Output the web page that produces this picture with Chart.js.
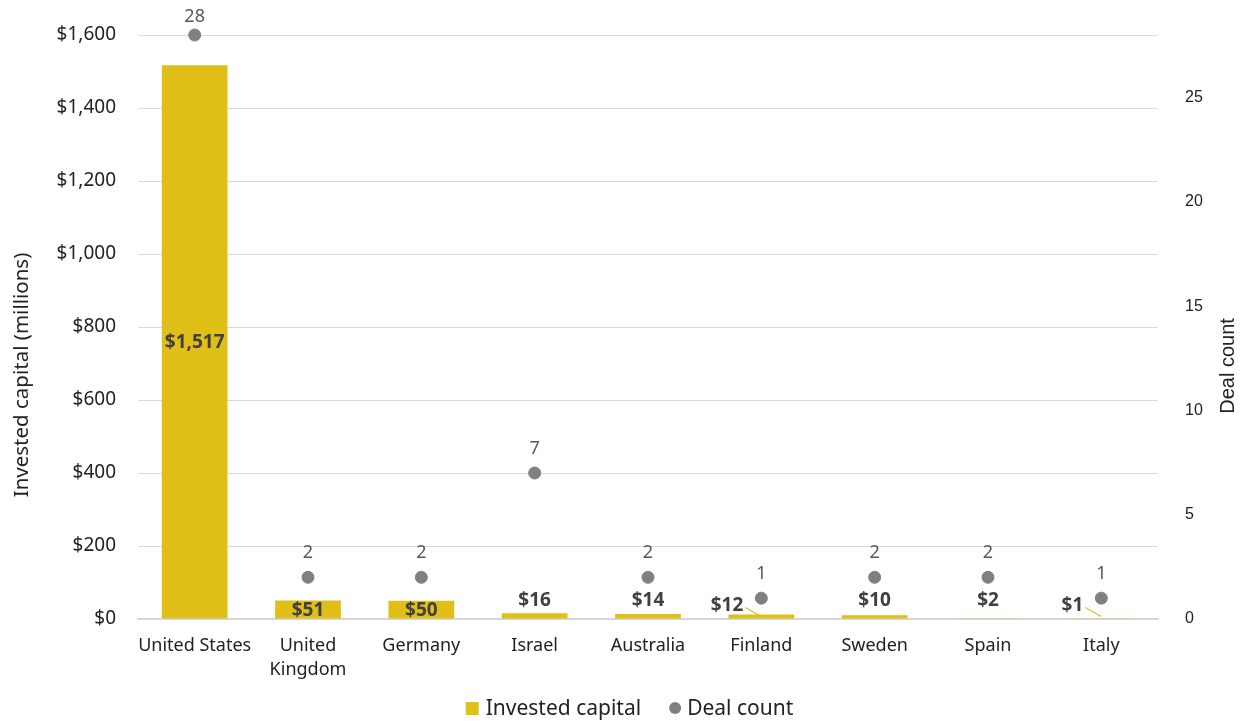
<!DOCTYPE html>
<html>
<head>
<meta charset="utf-8">
<script src="https://cdn.jsdelivr.net/npm/chart.js@4/dist/chart.umd.min.js"></script>
<style>
  html, body { margin: 0; padding: 0; background: #fff; }
  #wrap { width: 1245px; height: 721px; position: relative; }
</style>
</head>
<body>
<div id="wrap"><canvas id="chart"></canvas></div>
<script>
// datos
const countries = ['United States', ['United', 'Kingdom'], 'Germany', 'Israel', 'Australia', 'Finland', 'Sweden', 'Spain', 'Italy'];
const investedCapital = [1517, 51, 50, 16, 14, 12, 10, 2, 1];
const dealCount = [28, 2, 2, 7, 2, 1, 2, 2, 1];
const capitalTicks = [0, 200, 400, 600, 800, 1000, 1200, 1400, 1600];
const dealTicks = [0, 5, 10, 15, 20, 25];

// etiquetas con linea guia (quedan a la izquierda de la barra)
const leaderCats = ['Finland', 'Italy'];

const FONT = '"Noto Sans", sans-serif';
const FONT2 = '"Liberation Sans", Arial, sans-serif';
const GOLD = '#E0BF18';
const GRAY = '#808080';

// leyenda dibujada a mano (cuadro + circulo)
function dibujarLeyenda(chart) {
    const ctx = chart.ctx;
    const ds = chart.data.datasets;
    const y = 708;
    ctx.save();
    ctx.font = '21px ' + FONT;
    ctx.textBaseline = 'middle';
    ctx.textAlign = 'left';
    const w1 = ctx.measureText(ds[0].label).width;
    const w2 = ctx.measureText(ds[1].label).width;
    const total = 13 + 7 + w1 + 28 + 12 + 6 + w2;
    let x = 629.5 - total / 2;

    ctx.fillStyle = GOLD;
    ctx.fillRect(x, y - 6, 13, 13);
    x += 20;
    ctx.fillStyle = '#222';
    ctx.fillText(ds[0].label, x, y + 1);
    x += w1 + 28;

    ctx.fillStyle = GRAY;
    ctx.beginPath();
    ctx.arc(x + 6, y, 6, 0, Math.PI * 2);
    ctx.fill();
    x += 18;
    ctx.fillStyle = '#222';
    ctx.fillText(ds[1].label, x, y + 1);
    ctx.restore();
}

const labelsPlugin = {
    id: 'etiquetas',
    afterDatasetsDraw(chart) {
        const ctx = chart.ctx;
        ctx.save();

        // etiquetas de barras
        const barMeta = chart.getDatasetMeta(0);
        ctx.font = 'bold 19px ' + FONT;
        ctx.fillStyle = '#404040';
        ctx.textBaseline = 'middle';
        barMeta.data.forEach((bar, i) => {
            const v = investedCapital[i];
            const txt = '$' + v.toLocaleString('en-US');
            const h = bar.base - bar.y;
            const cat = Array.isArray(countries[i]) ? countries[i].join(' ') : countries[i];
            if (h > 15) {
                ctx.textAlign = 'center';
                ctx.fillText(txt, bar.x, (bar.y + bar.base) / 2 + 1);
            } else if (leaderCats.includes(cat)) {
                ctx.textAlign = 'right';
                ctx.fillText(txt, bar.x - 18, bar.base - 13);
                ctx.strokeStyle = GOLD;
                ctx.lineWidth = 1.2;
                ctx.beginPath();
                ctx.moveTo(bar.x - 16, bar.base - 11);
                ctx.lineTo(bar.x, bar.base - 2);
                ctx.stroke();
            } else {
                ctx.textAlign = 'center';
                ctx.fillText(txt, bar.x, Math.min(bar.y - 12, bar.base - 18));
            }
        });

        // etiquetas de puntos
        const ptMeta = chart.getDatasetMeta(1);
        ctx.font = '18px ' + FONT;
        ctx.fillStyle = '#595959';
        ctx.textAlign = 'center';
        ptMeta.data.forEach((pt, i) => {
            ctx.fillText(String(dealCount[i]), pt.x, Math.max(pt.y - 24, 17));
        });

        // titulos de ejes (los dos giran hacia arriba)
        ctx.fillStyle = '#222';
        ctx.save();
        ctx.translate(22, 375);
        ctx.rotate(-Math.PI / 2);
        ctx.font = '20.5px ' + FONT;
        ctx.fillText('Invested capital (millions)', 0, 0);
        ctx.restore();

        ctx.save();
        ctx.translate(1228, 366);
        ctx.rotate(-Math.PI / 2);
        ctx.font = '20px ' + FONT2;
        ctx.fillText('Deal count', 0, 0);
        ctx.restore();

        ctx.restore();

        dibujarLeyenda(chart);
    }
};

new Chart(document.getElementById('chart'), {
    data: {
        labels: countries,
        datasets: [{
            type: 'bar',
            label: 'Invested capital',
            data: investedCapital,
            backgroundColor: GOLD,
            yAxisID: 'y',
            categoryPercentage: 0.58,
            barPercentage: 1,
            order: 2
        }, {
            type: 'line',
            label: 'Deal count',
            data: dealCount,
            showLine: false,
            pointRadius: 6,
            pointHoverRadius: 6,
            pointBackgroundColor: GRAY,
            pointBorderColor: GRAY,
            backgroundColor: GRAY,
            borderColor: GRAY,
            yAxisID: 'y1',
            clip: false,
            order: 1
        }]
    },
    options: {
        responsive: true,
        maintainAspectRatio: false,
        animation: false,
        layout: { padding: { top: 35, bottom: 32, left: 0, right: 0 } },
        scales: {
            x: {
                grid: { display: false },
                border: { color: '#d6d6d6', width: 1.5 },
                afterFit: s => { s.height = 70; },
                ticks: {
                    color: '#222',
                    font: { family: FONT, size: 18, lineHeight: 1.33 },
                    padding: 7,
                    maxRotation: 0,
                    autoSkip: false
                }
            },
            y: {
                position: 'left',
                min: 0,
                max: 1600,
                afterBuildTicks: s => { s.ticks = capitalTicks.map(v => ({ value: v })); },
                afterFit: s => { s.width = 138; },
                grid: { color: '#d9d9d9', drawTicks: false },
                border: { display: false },
                ticks: {
                    color: '#222',
                    font: { family: FONT, size: 19 },
                    padding: 22,
                    callback: v => '$' + v.toLocaleString('en-US')
                }
            },
            y1: {
                position: 'right',
                min: 0,
                max: 28,
                afterBuildTicks: s => { s.ticks = dealTicks.map(v => ({ value: v })); },
                afterFit: s => { s.width = 87; },
                grid: { display: false },
                border: { display: false },
                ticks: {
                    color: '#222',
                    font: { family: FONT2, size: 16 },
                    padding: 19,
                    labelOffset: 0
                }
            }
        },
        plugins: {
            legend: { display: false },
            tooltip: { enabled: false }
        }
    },
    plugins: [labelsPlugin]
});
</script>
</body>
</html>
